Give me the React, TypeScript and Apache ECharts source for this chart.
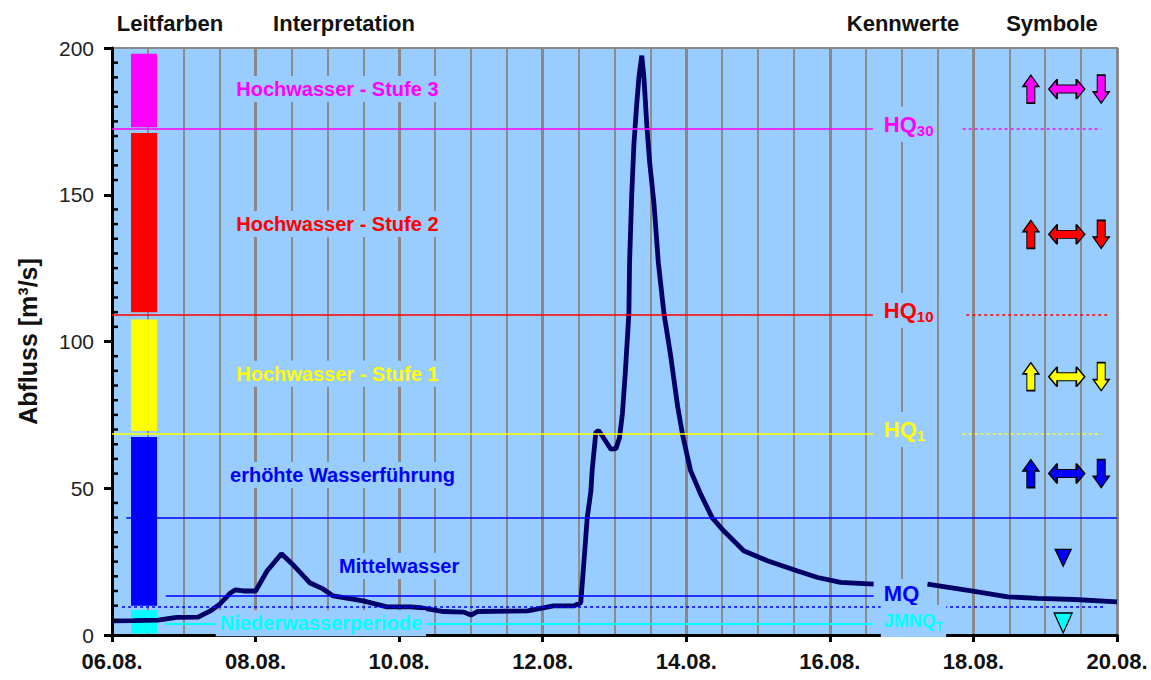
import React, { useEffect, useRef } from "react";
import * as echarts from "echarts";

const FONT = "'Liberation Sans', Arial, Helvetica, sans-serif";

// x axis: days since 06.08.
const dayLabels = ["06.08.", "08.08.", "10.08.", "12.08.", "14.08.", "16.08.", "18.08.", "20.08."];
const headers = ["Leitfarben", "Interpretation", "Kennwerte", "Symbole"];

// Abfluss curve (days since 06.08., m³/s); null = gap in record
const flowDays = [
  0, 0.3, 0.64, 0.9, 1.2, 1.37, 1.5, 1.65, 1.72, 1.83, 2.0, 2.16, 2.36, 2.51, 2.76, 2.94, 3.08, 3.5, 3.83,
  4.16, 4.29, 4.62, 4.9, 5.0, 5.09, 5.79, 6.15, 6.43, 6.53, 6.57, 6.62, 6.67, 6.69, 6.74, 6.78, 6.83, 6.95,
  7.02, 7.07, 7.11, 7.15, 7.2, 7.21, 7.24, 7.27, 7.31, 7.34, 7.38, 7.41, 7.45, 7.49, 7.55, 7.61, 7.69, 7.78,
  7.88, 7.95, 8.06, 8.2, 8.36, 8.52, 8.8, 9.13, 9.55, 9.83, 10.15, 10.61, 10.9, 11.36, 11.97, 12.48, 12.9,
  13.41, 14.0,
];
const flowValues = [
  4.8, 4.9, 5.1, 6.0, 6.1, 8.2, 10.5, 14.3, 15.4, 15.0, 15.0, 21.8, 27.7, 24.2, 17.7, 15.7, 13.3, 11.6, 9.6,
  9.6, 9.3, 8.0, 7.8, 6.8, 8.0, 8.2, 9.9, 9.9, 11.0, 23.6, 40, 48.8, 56.4, 69, 69.7, 67.8, 63.3,
  63.5, 67.2, 75.4, 89.2, 109.4, 127, 150, 167, 181, 190, 197.4, 190, 173.7, 161, 147, 127, 109.4, 95.5,
  77.8, 68, 56, 48, 40, 35.5, 28.7, 25.3, 21.8, 19.6, 17.9, 17.3, null, 17.3, 15, 13, 12.5,
  12.1, 11.3,
];

// y axis minor tick positions (m³/s)
const minorTickValues = [
  5, 10, 15, 20, 25, 30, 35, 40, 45, 55, 60, 65, 70, 75, 80, 85, 90, 95, 105, 110, 115, 120, 125, 130, 135,
  140, 145, 155, 160, 165, 170, 175, 180, 185, 190, 195,
];

// Leitfarben bar segments
const bandColors = ["#FF00FF", "#FF0000", "#FFFF00", "#0000FF", "#00FFFF"];
const bandLow = [173, 110, 69.5, 10, 0.5];
const bandHigh = [198, 171, 107.5, 67.5, 8.5];

// Interpretation texts
const interpTexts = ["Hochwasser - Stufe 3", "Hochwasser - Stufe 2", "Hochwasser - Stufe 1", "erhöhte Wasserführung", "Mittelwasser", "Niederwasserperiode"];
const interpColors = ["#FF00FF", "#FF0000", "#FFFF00", "#0000FF", "#0000FF", "#00FFFF"];
const interpDay = [3.14, 3.14, 3.14, 3.21, 4.0, 2.91];
const interpLevel = [186, 140, 89, 54.5, 23.5, 4.0];

// Kennwerte
const kennMain = ["HQ", "HQ", "HQ", "MQ", "JMNQ"];
const kennSub = ["30", "10", "1", "", "T"];
const kennValues = [172.4, 109.2, 68.6, 13.5, 4.0];
const kennColors = ["#FF00FF", "#FF0000", "#FFFF00", "#0000FF", "#00FFFF"];
const extraLevels = [40, 9.7];

// Symbole
const symbolRowLevels = [186, 136.5, 88, 55];
const symbolRowColors = ["#FF00FF", "#FF0000", "#FFFF00", "#0000FF"];
const symbolColDays = [12.8, 13.3, 13.78];
const triangleLevels = [26.3, 4.1];
const triangleColors = ["#0000FF", "#00FFFF"];

const PLOT_BG = "#99CCFF";

const UP = "path://M5,0 L10,8 L7.5,8 L7.5,20 L2.5,20 L2.5,8 L0,8 Z";
const BOTH = "path://M0,5 L7,0 L7,3 L23,3 L23,0 L30,5 L23,10 L23,7 L7,7 L7,10 Z";
const DOWN = "path://M2.5,0 L7.5,0 L7.5,12 L10,12 L5,20 L0,12 L2.5,12 Z";
const TRI = "path://M0,0 L10,0 L5,10 Z";

export default function App() {
  const ref = useRef<HTMLDivElement>(null);

  useEffect(() => {
    if (!ref.current) return;
    const chart = echarts.init(ref.current, undefined, { renderer: "svg" });

    const flowData = flowDays.map((d, i) => [d, flowValues[i] === null ? "-" : flowValues[i]]);

    const seg = (x0: number, x1: number, y: number, color: string, width: number, type: any) => [
      { coord: [x0, y], lineStyle: { color, width, type, opacity: 1 } },
      { coord: [x1, y] },
    ];
    const lineData: any[] = [];
    const tailStart = [11.85, 11.9, 11.85];
    const tailEnd = [13.78, 13.88, 13.78];
    for (let i = 0; i < 3; i++) {
      lineData.push(seg(0, 10.6, kennValues[i], kennColors[i], 1.5, "solid"));
      lineData.push(seg(tailStart[i], tailEnd[i], kennValues[i], kennColors[i], 1.5, [3, 3]));
    }
    lineData.push(seg(0.75, 10.61, kennValues[3], kennColors[3], 1.5, "solid"));
    lineData.push(seg(0.75, 10.6, kennValues[4], kennColors[4], 2, "solid"));
    lineData.push(seg(0.2, 14, extraLevels[0], "#0000FF", 1.5, "solid"));
    lineData.push(seg(0.14, 13.82, extraLevels[1], "#0000FF", 1.5, [3, 3]));

    const areaData = bandColors.map((c, i) => [
      { xAxis: 0.265, yAxis: bandHigh[i], itemStyle: { color: c, opacity: 1 } },
      { xAxis: 0.628, yAxis: bandLow[i] },
    ]);

    const labelData: any[] = interpTexts.map((t, i) => ({
      value: [interpDay[i], interpLevel[i]],
      label: {
        show: true,
        position: "inside",
        formatter: t,
        color: interpColors[i],
        fontSize: 20,
        fontWeight: "bold",
        fontFamily: FONT,
        backgroundColor: PLOT_BG,
        padding: [3, 4],
        opacity: 1,
      },
    }));
    const kennOffset = [1.6, 1.4, 1.4, 0.5, 0.8];
    kennMain.forEach((m, i) => {
      const big = i === 4 ? 18 : 22;
      const small = i === 4 ? 12 : 15;
      labelData.push({
        value: [10.71, kennValues[i] + kennOffset[i]],
        label: {
          show: true,
          position: "right",
          distance: 0,
          formatter: kennSub[i] ? `{m|${m}}{s|${kennSub[i]}}` : `{m|${m}}`,
          backgroundColor: PLOT_BG,
          padding: [4, 3],
          opacity: 1,
          rich: {
            m: { fontSize: big, fontWeight: "bold", color: kennColors[i], fontFamily: FONT },
            s: { fontSize: small, fontWeight: "bold", color: kennColors[i], fontFamily: FONT, padding: [12, 0, 0, 0] },
          },
        },
      });
    });

    const symData: any[] = [];
    symbolRowLevels.forEach((lv, r) => {
      const shapes = [UP, BOTH, DOWN];
      const sizes = [[16, 28], [36, 20], [16, 28]];
      symbolColDays.forEach((d, c) => {
        symData.push({
          value: [d, lv],
          symbol: shapes[c],
          symbolSize: sizes[c],
          itemStyle: { color: symbolRowColors[r], borderColor: "#000", borderWidth: 1.3, opacity: 1 },
        });
      });
    });
    triangleLevels.forEach((lv, i) => {
      symData.push({
        value: [13.25, lv],
        symbol: TRI,
        symbolSize: i === 0 ? [16, 17] : [18, 20],
        itemStyle: { color: triangleColors[i], borderColor: "#000", borderWidth: 1.3, opacity: 1 },
      });
    });

    const headerX = [170, 344, 903, 1052];
    const headerGraphics = headers.map((h, i) => ({
      type: "text",
      id: "hdr" + i,
      x: headerX[i],
      y: 23,
      style: {
        text: h,
        fill: "#111",
        font: `bold 22px ${FONT}`,
        textAlign: "center",
        textVerticalAlign: "middle",
        verticalAlign: "middle",
      },
    }));

    chart.setOption({
      animation: false,
      backgroundColor: "#fff",
      textStyle: { fontFamily: FONT },
      grid: {
        left: 112,
        right: 34,
        top: 48,
        bottom: 45,
        show: true,
        backgroundColor: PLOT_BG,
        borderColor: "#888",
        borderWidth: 2,
      },
      graphic: headerGraphics,
      xAxis: {
        type: "value",
        min: 0,
        max: 14,
        interval: 2,
        axisLine: { show: true, onZero: false, lineStyle: { color: "#000", width: 3 } },
        axisTick: { show: true, inside: false, length: 7, lineStyle: { color: "#000", width: 3 } },
        axisLabel: {
          formatter: (v: number) => dayLabels[Math.round(v / 2)] ?? "",
          fontSize: 22,
          fontWeight: "bold",
          color: "#111",
          margin: 15,
          fontFamily: FONT,
        },
        splitLine: { show: true, lineStyle: { color: "#888", width: 3 } },
        minorTick: { show: false, splitNumber: 4 },
        minorSplitLine: { show: true, lineStyle: { color: "#8c8c8c", width: 2 } },
      },
      yAxis: {
        type: "value",
        min: 0,
        max: 200,
        interval: 50,
        name: "Abfluss [m³/s]",
        nameLocation: "middle",
        nameGap: 72,
        nameTextStyle: { fontSize: 25, fontWeight: "bold", color: "#111", fontFamily: FONT },
        axisLine: { show: true, onZero: false, lineStyle: { color: "#000", width: 3 } },
        axisTick: { show: true, inside: false, length: 8, lineStyle: { color: "#000", width: 3 } },
        axisLabel: { fontSize: 21, color: "#222", margin: 18, fontFamily: FONT },
        splitLine: { show: false },
      },
      series: [
        {
          name: "levels",
          type: "line",
          data: [],
          z: 2,
          silent: true,
          markLine: { silent: true, symbol: "none", label: { show: false }, data: lineData },
        },
        {
          name: "Abfluss",
          type: "line",
          data: flowData,
          z: 3,
          symbol: "none",
          showSymbol: false,
          connectNulls: false,
          lineStyle: { color: "#000066", width: 4.8 },
          silent: true,
        },
        {
          name: "Leitfarben",
          type: "line",
          data: [],
          z: 4,
          silent: true,
          markArea: { silent: true, data: areaData },
        },
        {
          name: "labels",
          type: "scatter",
          data: labelData,
          symbolSize: 0,
          itemStyle: { color: "rgba(0,0,0,0)", opacity: 1 },
          z: 5,
          silent: true,
        },
        {
          name: "Symbole",
          type: "scatter",
          data: symData,
          z: 6,
          silent: true,
        },
      ],
    });

    // inward minor ticks on the y axis, placed through the chart's own scale
    const tickGraphics = minorTickValues.map((v, i) => {
      const p = chart.convertToPixel({ gridIndex: 0 }, [0, v]) as number[];
      return {
        type: "line",
        id: "mt" + i,
        z: 100,
        silent: true,
        shape: { x1: p[0], y1: p[1], x2: p[0] + 6, y2: p[1] },
        style: { stroke: "#000", lineWidth: 2.5 },
      };
    });
    chart.setOption({ graphic: [...headerGraphics, ...tickGraphics] });

    return () => chart.dispose();
  }, []);

  return <div ref={ref} style={{ position: "absolute", left: 0, top: 0, width: 1151, height: 680 }} />;
}
